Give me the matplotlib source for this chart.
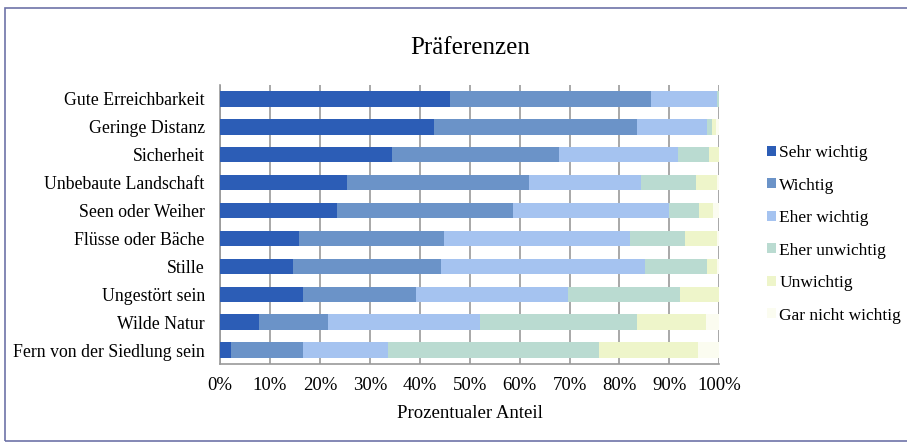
import matplotlib.pyplot as plt
import numpy as np
from matplotlib.patches import Rectangle

plt.rcParams['font.family'] = ['Liberation Serif', 'DejaVu Serif']

categories = ["Gute Erreichbarkeit", "Geringe Distanz", "Sicherheit",
              "Unbebaute Landschaft", "Seen oder Weiher", "Flüsse oder Bäche",
              "Stille", "Ungestört sein", "Wilde Natur",
              "Fern von der Siedlung sein"]
levels = ["Sehr wichtig", "Wichtig", "Eher wichtig", "Eher unwichtig",
          "Unwichtig", "Gar nicht wichtig"]

sehr_wichtig   = [46.1, 42.9, 34.4, 25.5, 23.4, 15.9, 14.6, 16.7, 7.9, 2.1]
wichtig        = [40.3, 40.7, 33.4, 36.4, 35.3, 29.0, 29.7, 22.6, 13.8, 14.6]
eher_wichtig   = [13.2, 13.9, 24.0, 22.4, 31.3, 37.2, 40.8, 30.3, 30.4, 17.0]
eher_unwichtig = [0.4, 1.0, 6.2, 11.0, 6.0, 11.0, 12.4, 22.5, 31.5, 42.1]
unwichtig      = [0.0, 0.8, 2.0, 4.2, 2.7, 6.4, 2.0, 7.9, 13.7, 20.0]
gar_nicht      = [0.0, 0.7, 0.0, 0.5, 1.3, 0.5, 0.5, 0.0, 2.7, 4.2]

series = [sehr_wichtig, wichtig, eher_wichtig, eher_unwichtig, unwichtig, gar_nicht]
colors = ['#2c5db6', '#6b93c8', '#a5c3f0', '#badbd1', '#eef5ca', '#fbfcf0']

fig = plt.figure(figsize=(9.07, 4.45), dpi=100)
ax = fig.add_axes([0.2426, 0.182, 0.5505, 0.627])

y = np.arange(len(categories))
left = np.zeros(len(categories))
for vals, col, lab in zip(series, colors, levels):
    vals = np.array(vals)
    ax.barh(y, vals, left=left, height=0.55, color=col, label=lab, zorder=3)
    left += vals

ax.set_ylim(len(categories) - 0.5, -0.5)
ax.set_xlim(0, 100)
ax.set_xticks(np.arange(0, 101, 10))
ax.set_xticklabels([f"{t}%" for t in range(0, 101, 10)], fontsize=13.5)
ax.set_yticks(y)
ax.set_yticklabels(categories, fontsize=12.8)
ax.tick_params(axis='y', length=0, pad=11)
ax.tick_params(axis='x', length=0, pad=9)
ax.xaxis.grid(True, color='#9a9a9a', linewidth=1.2, zorder=0)
for s in ['left', 'bottom']:
    ax.spines[s].set_color('#9a9a9a')
    ax.spines[s].set_linewidth(1.2)
ax.spines['top'].set_visible(False)
ax.spines['right'].set_visible(False)
ax.set_xlabel("Prozentualer Anteil", fontsize=13.5, labelpad=8)
fig.text(0.518, 0.893, "Präferenzen", ha='center', va='center', fontsize=18)

ax.legend(loc='center left', bbox_to_anchor=(1.082, 0.465), frameon=False,
          fontsize=12.5, handlelength=0.5, handleheight=0.5, handletextpad=0.2,
          labelspacing=0.95, borderaxespad=0)

fig.patches.append(Rectangle((0.006, 0.008), 1.2, 0.975, transform=fig.transFigure,
                             fill=False, edgecolor='#6e73a8', linewidth=1.2))

fig.savefig('out.png', dpi=100)
